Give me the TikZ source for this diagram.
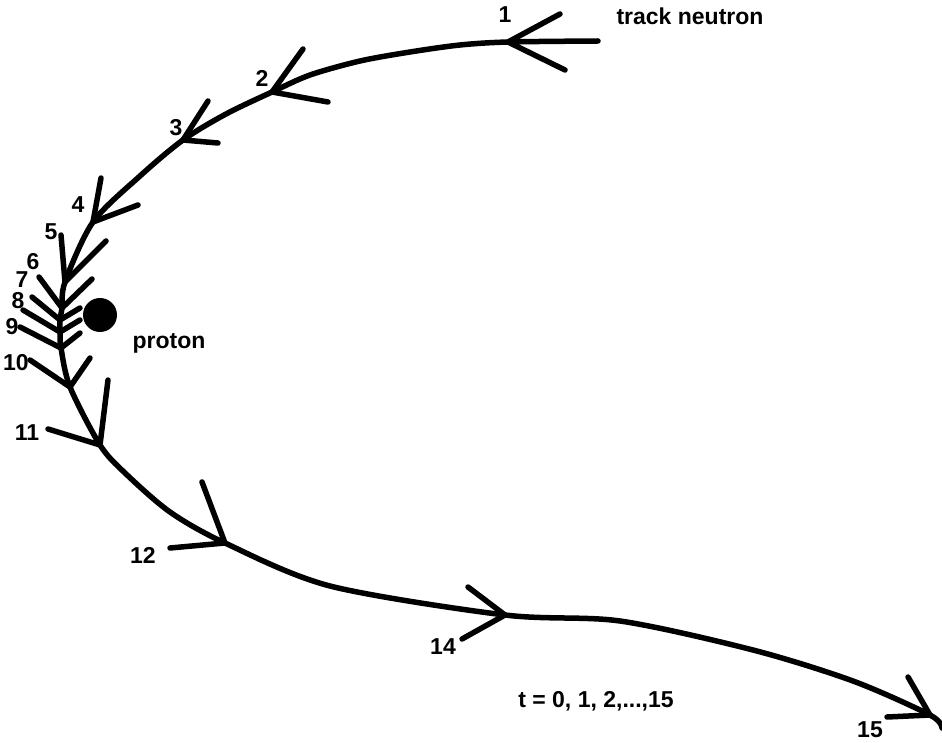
\documentclass[tikz,border=0pt]{standalone}
\usepackage{fontspec}
\setmainfont{Liberation Sans}
\usepackage{tikz}
\usetikzlibrary{calc}

\tikzset{
	track/.style={line width=5.5pt, line cap=round, line join=round},
	lbl/.style={font=\fontsize{23}{27}\selectfont\bfseries, inner sep=0pt}
}

\begin{document}
\begin{tikzpicture}[x=1pt,y=-1pt]
	\useasboundingbox (0,0) rectangle (942,743);
	
	% points of the track
	\coordinate (s) at (598,41);
	\coordinate (t1) at (508,42);
	\coordinate (t2) at (272,92);
	\coordinate (t3) at (183,140);
	\coordinate (t4) at (93,222);
	\coordinate (t5) at (65,282);
	\coordinate (t6) at (62,308);
	\coordinate (t7) at (60,320);
	\coordinate (t8) at (60,332);
	\coordinate (t9) at (61,348);
	\coordinate (t10) at (70,387);
	\coordinate (t11) at (100,445);
	\coordinate (t12) at (225,543);
	\coordinate (t14) at (505,615);
	\coordinate (t15) at (930,715);
	\coordinate (e) at (942,728);
	% points in between
	\coordinate (m1) at (460,45);
	\coordinate (m2) at (410,52);
	\coordinate (m3) at (360,61);
	\coordinate (m4) at (310,75);
	\coordinate (m5) at (226,114);
	\coordinate (m6) at (140,176);
	\coordinate (m8) at (125,473);
	\coordinate (m9) at (170,512);
	\coordinate (m11) at (330,586);
	\coordinate (m13) at (620,621);
	\coordinate (m14) at (753,650);
	\coordinate (m15) at (853,681);
	
	% barb ends
	\coordinate (a1) at (560,14);   \coordinate (b1) at (565,70);
	\coordinate (a2) at (303,49);   \coordinate (b2) at (328,102);
	\coordinate (a3) at (208,101);  \coordinate (b3) at (218,143);
	\coordinate (a4) at (101,178);  \coordinate (b4) at (138,205);
	\coordinate (a5) at (61,235);   \coordinate (b5) at (106,241);
	\coordinate (a6) at (39,277);   \coordinate (b6) at (92,279);
	\coordinate (a7) at (32,297);   \coordinate (b7) at (80,308);
	\coordinate (a8) at (23,310);   \coordinate (b8) at (80,320);
	\coordinate (a9) at (20,327);   \coordinate (b9) at (80,333);
	\coordinate (a10) at (30,360);  \coordinate (b10) at (90,358);
	\coordinate (a11) at (48,429);  \coordinate (b11) at (108,380);
	\coordinate (a12) at (170,548); \coordinate (b12) at (202,482);
	\coordinate (a14) at (468,587); \coordinate (b14) at (462,639);
	\coordinate (a15) at (908,677); \coordinate (b15) at (887,717);
	
	\draw[track] plot[smooth, tension=0.5] coordinates {(s) (t1) (m1) (m2) (m3) (m4) (t2) (m5) (t3) (m6) (t4) (t5) (t6) (t7) (t8) (t9) (t10) (t11) (m8) (m9) (t12) (m11) (t14) (m13) (m14) (m15) (t15) (e)};
	
	\foreach \i in {1,...,12,14,15}
		\draw[track] (a\i) -- (t\i) -- (b\i);
	
	% proton
	\coordinate (proton) at (100,315);
	\fill (proton) circle (17);
	
	\node[lbl] (n1) at (505,15) {1};
	\node[lbl] (n2) at (262,78) {2};
	\node[lbl] (n3) at (176,128) {3};
	\node[lbl] (n4) at (78,205) {4};
	\node[lbl] (n5) at (51,232) {5};
	\node[lbl] (n6) at (33,262) {6};
	\node[lbl] (n7) at (22,280) {7};
	\node[lbl] (n8) at (18,301) {8};
	\node[lbl] (n9) at (12,327) {9};
	\node[lbl] (n10) at (16,363) {10};
	\node[lbl] (n11) at (27,433) {11};
	\node[lbl] (n12) at (143,555) {12};
	\node[lbl] (n14) at (443,647) {14};
	\node[lbl] (n15) at (870,730) {15};
	\node[lbl] (ptext) at (169,343) {proton};
	\node[lbl] (title) at (690,16) {track neutron};
	\node[lbl] (times) at (596,701) {t = 0, 1, 2,...,15};
	
\end{tikzpicture}
\end{document}
